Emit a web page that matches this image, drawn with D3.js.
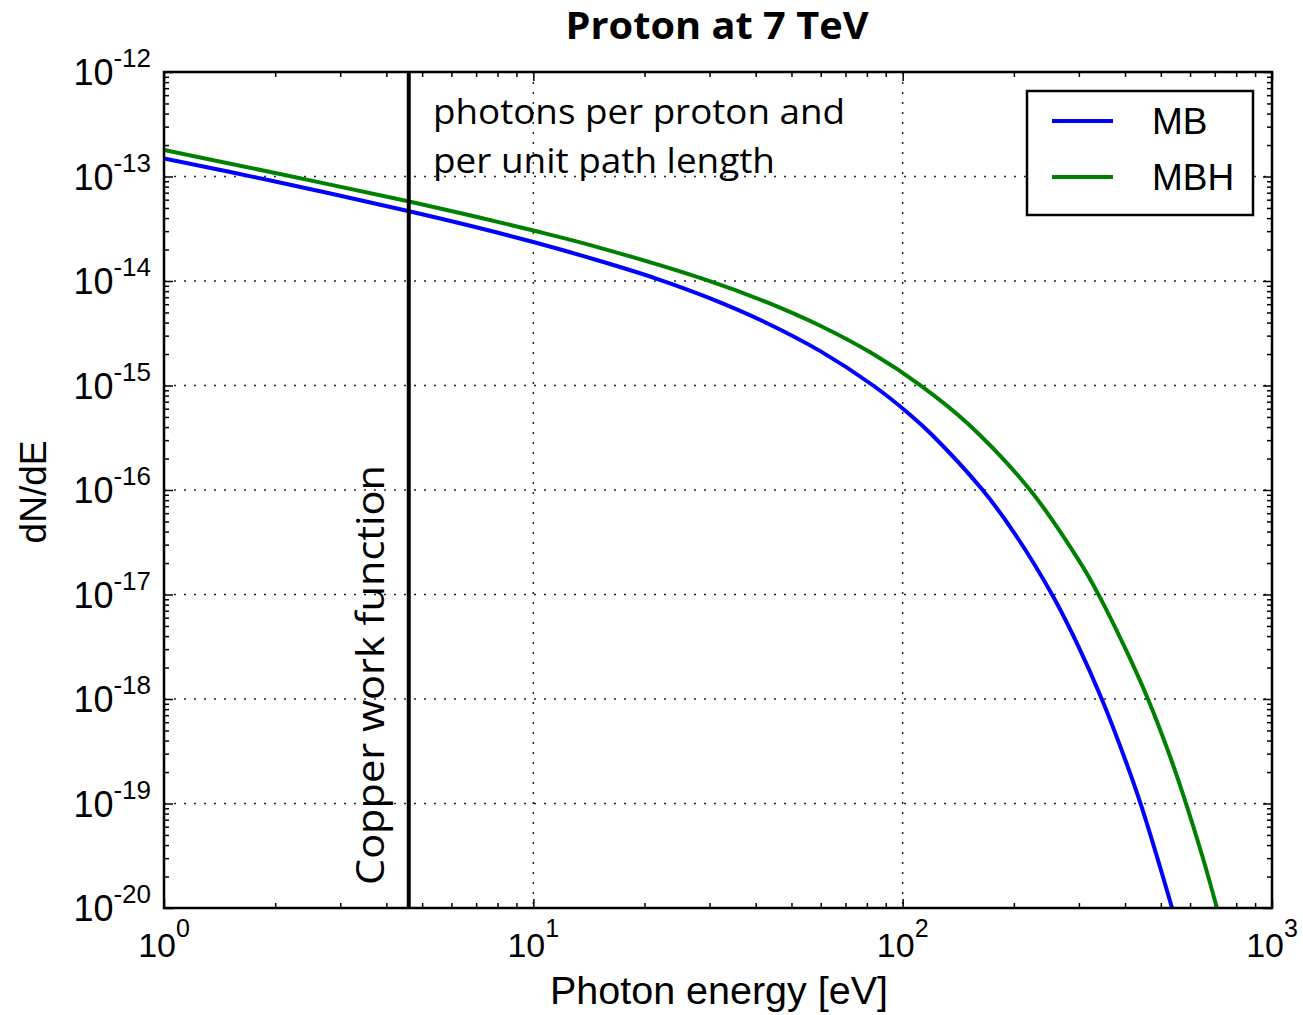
<!doctype html>
<html>
<head>
<meta charset="utf-8">
<script src="https://d3js.org/d3.v7.min.js"></script>
<title>Proton at 7 TeV</title>
<style>
  body { margin: 0; background: #fff; }
  svg { font-family: "Liberation Sans", Arial, sans-serif; }
</style>
</head>
<body>
<svg width="1303" height="1015"></svg>
<script>
// values
var energyMB  = [1, 2, 4.58, 7, 10, 15, 21.6, 30, 42, 60, 83.2, 104.7, 120, 163.8, 200, 255.5, 300, 346, 400, 441.4, 537.6, 600];
var valuesMB  = [1.49e-13, 8.96e-14, 4.68e-14, 3.27e-14, 2.36e-14, 1.57e-14, 1.05e-14, 6.86e-15, 4.1e-15, 2.12e-15, 1e-15,
                 5.26e-16, 3.38e-16, 1.02e-16, 3.94e-17, 9.57e-18, 3.12e-18, 9.98e-19, 2.65e-19, 9.8e-20, 9.7e-21, 2.4e-21];
var energyMBH = [1, 2, 4.58, 7, 10, 15, 29.5, 42, 60, 83, 111.5, 150, 221.3, 302, 338, 400, 462, 530, 587.8, 650, 709.5, 760];
var valuesMBH = [1.79e-13, 1.08e-13, 5.79e-14, 4.12e-14, 3.04e-14, 2.1e-14, 1.02e-14, 6.45e-15, 3.71e-15, 2.01e-15, 1.01e-15,
                 4.33e-16, 1e-16, 2.04e-17, 1.02e-17, 3.08e-18, 9.9e-19, 2.8e-19, 9.5e-20, 3.01e-20, 1e-20, 4.0e-21];
var seriesNames = ["MB", "MBH"];
var seriesColors = ["#0000ff", "#008000"];
var copperWorkFunction = 4.6;
var xDecades = [0, 1, 2, 3];
var yDecades = [-12, -13, -14, -15, -16, -17, -18, -19, -20];

var svg = d3.select("svg"),
    pl = 164, pr = 1272, pt = 72, pb = 908;

var x = d3.scaleLog().domain([1, 1000]).range([pl, pr]);
var y = d3.scaleLog().domain([1e-20, 1e-12]).range([pb, pt]);

var xMajor = xDecades.map(function(d) { return Math.pow(10, d); });
var yMajor = yDecades.map(function(d) { return Math.pow(10, d); });
var xMinor = [], yMinor = [];
xDecades.slice(0, -1).forEach(function(d) {
    for (var k = 2; k < 10; k++) xMinor.push(k * Math.pow(10, d));
});
yDecades.slice(1).forEach(function(d) {
    for (var k = 2; k < 10; k++) yMinor.push(k * Math.pow(10, d));
});

svg.append("defs").append("clipPath").attr("id", "plot")
   .append("rect").attr("x", pl).attr("y", pt)
   .attr("width", pr - pl).attr("height", pb - pt);

// grid
var grid = svg.append("g").attr("stroke", "#222").attr("stroke-width", 1.5)
              .attr("stroke-dasharray", "2,8");
grid.selectAll(".gx").data(xMajor.slice(1, -1)).enter().append("line")
    .attr("x1", function(d) { return x(d); }).attr("x2", function(d) { return x(d); })
    .attr("y1", pt).attr("y2", pb);
grid.selectAll(".gy").data(yMajor.slice(1, -1)).enter().append("line")
    .attr("y1", function(d) { return y(d); }).attr("y2", function(d) { return y(d); })
    .attr("x1", pl).attr("x2", pr);

// ticks (inward, all four sides)
function ticks(axis, vals, size, tx) {
    var g = svg.append("g").attr("transform", tx)
       .call(axis.tickValues(vals).tickSize(-size).tickFormat(""));
    g.select(".domain").remove();
    g.selectAll(".tick line").attr("stroke", "#000").attr("stroke-width", 1.5);
}
ticks(d3.axisBottom(x), xMajor, 9, "translate(0," + pb + ")");
ticks(d3.axisBottom(x), xMinor, 5, "translate(0," + pb + ")");
ticks(d3.axisTop(x), xMajor, 9, "translate(0," + pt + ")");
ticks(d3.axisTop(x), xMinor, 5, "translate(0," + pt + ")");
ticks(d3.axisLeft(y), yMajor, 9, "translate(" + pl + ",0)");
ticks(d3.axisLeft(y), yMinor, 5, "translate(" + pl + ",0)");
ticks(d3.axisRight(y), yMajor, 9, "translate(" + pr + ",0)");
ticks(d3.axisRight(y), yMinor, 5, "translate(" + pr + ",0)");

// curves
var line = d3.line()
    .x(function(d) { return x(d[0]); })
    .y(function(d) { return y(d[1]); })
    .curve(d3.curveCatmullRom.alpha(0.5));
var series = [d3.zip(energyMB, valuesMB), d3.zip(energyMBH, valuesMBH)];
svg.append("g").attr("clip-path", "url(#plot)")
   .selectAll("path").data(series).enter().append("path")
   .attr("d", line)
   .attr("fill", "none")
   .attr("stroke", function(d, i) { return seriesColors[i]; })
   .attr("stroke-width", 4);

// copper work function line
svg.append("line")
   .attr("x1", x(copperWorkFunction)).attr("x2", x(copperWorkFunction))
   .attr("y1", pt).attr("y2", pb)
   .attr("stroke", "#000").attr("stroke-width", 4);

// frame
svg.append("rect").attr("x", pl).attr("y", pt)
   .attr("width", pr - pl).attr("height", pb - pt)
   .attr("fill", "none").attr("stroke", "#000").attr("stroke-width", 2.5);

// tick labels
svg.selectAll(".xl").data(xDecades).enter().append("text")
   .attr("x", function(d) { return x(Math.pow(10, d)); })
   .attr("y", 957)
   .attr("text-anchor", "middle")
   .each(function(d) {
       var t = d3.select(this);
       t.append("tspan").attr("font-size", 34).text("10");
       t.append("tspan").attr("font-size", 25).attr("dy", -20).text(d);
   });
svg.selectAll(".yl").data(yDecades).enter().append("text")
   .attr("x", 151)
   .attr("y", function(d) { return y(Math.pow(10, d)) + 13; })
   .attr("text-anchor", "end")
   .each(function(d) {
       var t = d3.select(this);
       t.append("tspan").attr("font-size", 36).text("10");
       t.append("tspan").attr("font-size", 26).attr("dy", -18).text(d);
   });

// axis titles
svg.append("text")
   .attr("x", 719).attr("y", 1004)
   .attr("text-anchor", "middle").attr("font-size", 38)
   .attr("textLength", 338).attr("lengthAdjust", "spacingAndGlyphs")
   .text("Photon energy [eV]");
svg.append("text")
   .attr("transform", "translate(46,492) rotate(-90)")
   .attr("text-anchor", "middle").attr("font-size", 36)
   .attr("textLength", 103).attr("lengthAdjust", "spacingAndGlyphs")
   .text("dN/dE");

// title
svg.append("text")
   .attr("x", 717).attr("y", 39)
   .attr("text-anchor", "middle")
   .attr("font-family", "'Open Sans', sans-serif").attr("font-weight", "bold")
   .attr("font-size", 37).attr("textLength", 303).attr("lengthAdjust", "spacingAndGlyphs")
   .text("Proton at 7 TeV");

// annotations
var note = ["photons per proton and", "per unit path length"];
var noteWidths = [412, 342];
svg.selectAll(".note").data(note).enter().append("text")
   .attr("x", 433).attr("y", function(d, i) { return 124 + i * 49; })
   .attr("font-family", "'Open Sans', sans-serif").attr("font-size", 34)
   .attr("textLength", function(d, i) { return noteWidths[i]; })
   .attr("lengthAdjust", "spacingAndGlyphs")
   .text(function(d) { return d; });
svg.append("text")
   .attr("transform", "translate(384,885) rotate(-90)")
   .attr("font-family", "'Open Sans', sans-serif").attr("font-size", 38)
   .attr("textLength", 420).attr("lengthAdjust", "spacingAndGlyphs")
   .text("Copper work function");

// legend
var legend = svg.append("g");
legend.append("rect").attr("x", 1027).attr("y", 91)
      .attr("width", 226).attr("height", 124)
      .attr("fill", "#fff").attr("stroke", "#000").attr("stroke-width", 2.5);
var items = legend.selectAll(".item").data(seriesNames).enter().append("g")
      .attr("transform", function(d, i) { return "translate(0," + (121 + i * 56) + ")"; });
items.append("line").attr("x1", 1052).attr("x2", 1113)
     .attr("stroke", function(d, i) { return seriesColors[i]; }).attr("stroke-width", 4);
items.append("text").attr("x", 1152).attr("y", 13)
     .attr("font-size", 37).text(function(d) { return d; });
</script>
</body>
</html>
